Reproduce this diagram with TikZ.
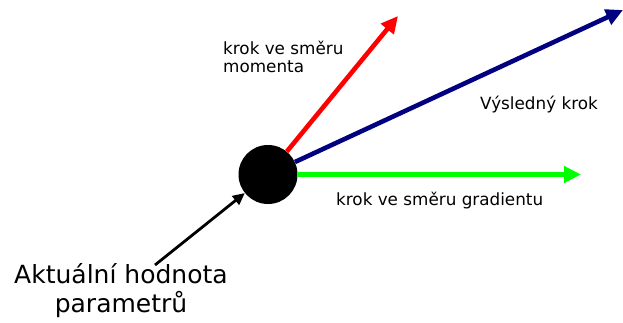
\documentclass[tikz,border=0pt]{standalone}
\usepackage{fontspec}
\setmainfont{DejaVu Sans}
\usetikzlibrary{arrows.meta}
\definecolor{navyblue}{RGB}{0,0,128}
\definecolor{brightgreen}{RGB}{0,255,0}
\tikzset{
  stepline/.style={line width=4.6pt, -{Triangle[length=17pt,width=16pt]}},
  pointer/.style={line width=2.8pt, -{Triangle[length=12pt,width=11pt]}},
  smalltext/.style={font=\fontsize{16.8}{18.5}\selectfont, inner sep=0pt, anchor=base west, align=left},
  bigtext/.style={font=\fontsize{25}{29}\selectfont, inner sep=0pt, align=center},
}
\begin{document}
\begin{tikzpicture}[x=1pt,y=-1pt]
\useasboundingbox (0,0) rectangle (623,323);
\node[circle, fill=black, minimum size=59pt, inner sep=0pt] (cur) at (268,174.5) {};
\coordinate (redtip) at (398,16);
\coordinate (bluetip) at (623,10);
\coordinate (greentip) at (581,174.5);
\coordinate (ptrstart) at (155,265);
\draw[stepline, red] (cur) -- (redtip);
\draw[stepline, navyblue] (cur) -- (bluetip);
\draw[stepline, brightgreen] (cur) -- (greentip);
\draw[pointer] (ptrstart) -- (cur);
\node[smalltext] (mom) at (223,73) {krok ve směru\\momenta};
\node[smalltext] (res) at (480,110) {Výsledný krok};
\node[smalltext] (grad) at (336,205) {krok ve směru gradientu};
\node[bigtext, anchor=base] (akt) at (121,283) {Aktuální hodnota};
\node[bigtext, anchor=base] (par) at (121,312) {parametrů};
\end{tikzpicture}
\end{document}
